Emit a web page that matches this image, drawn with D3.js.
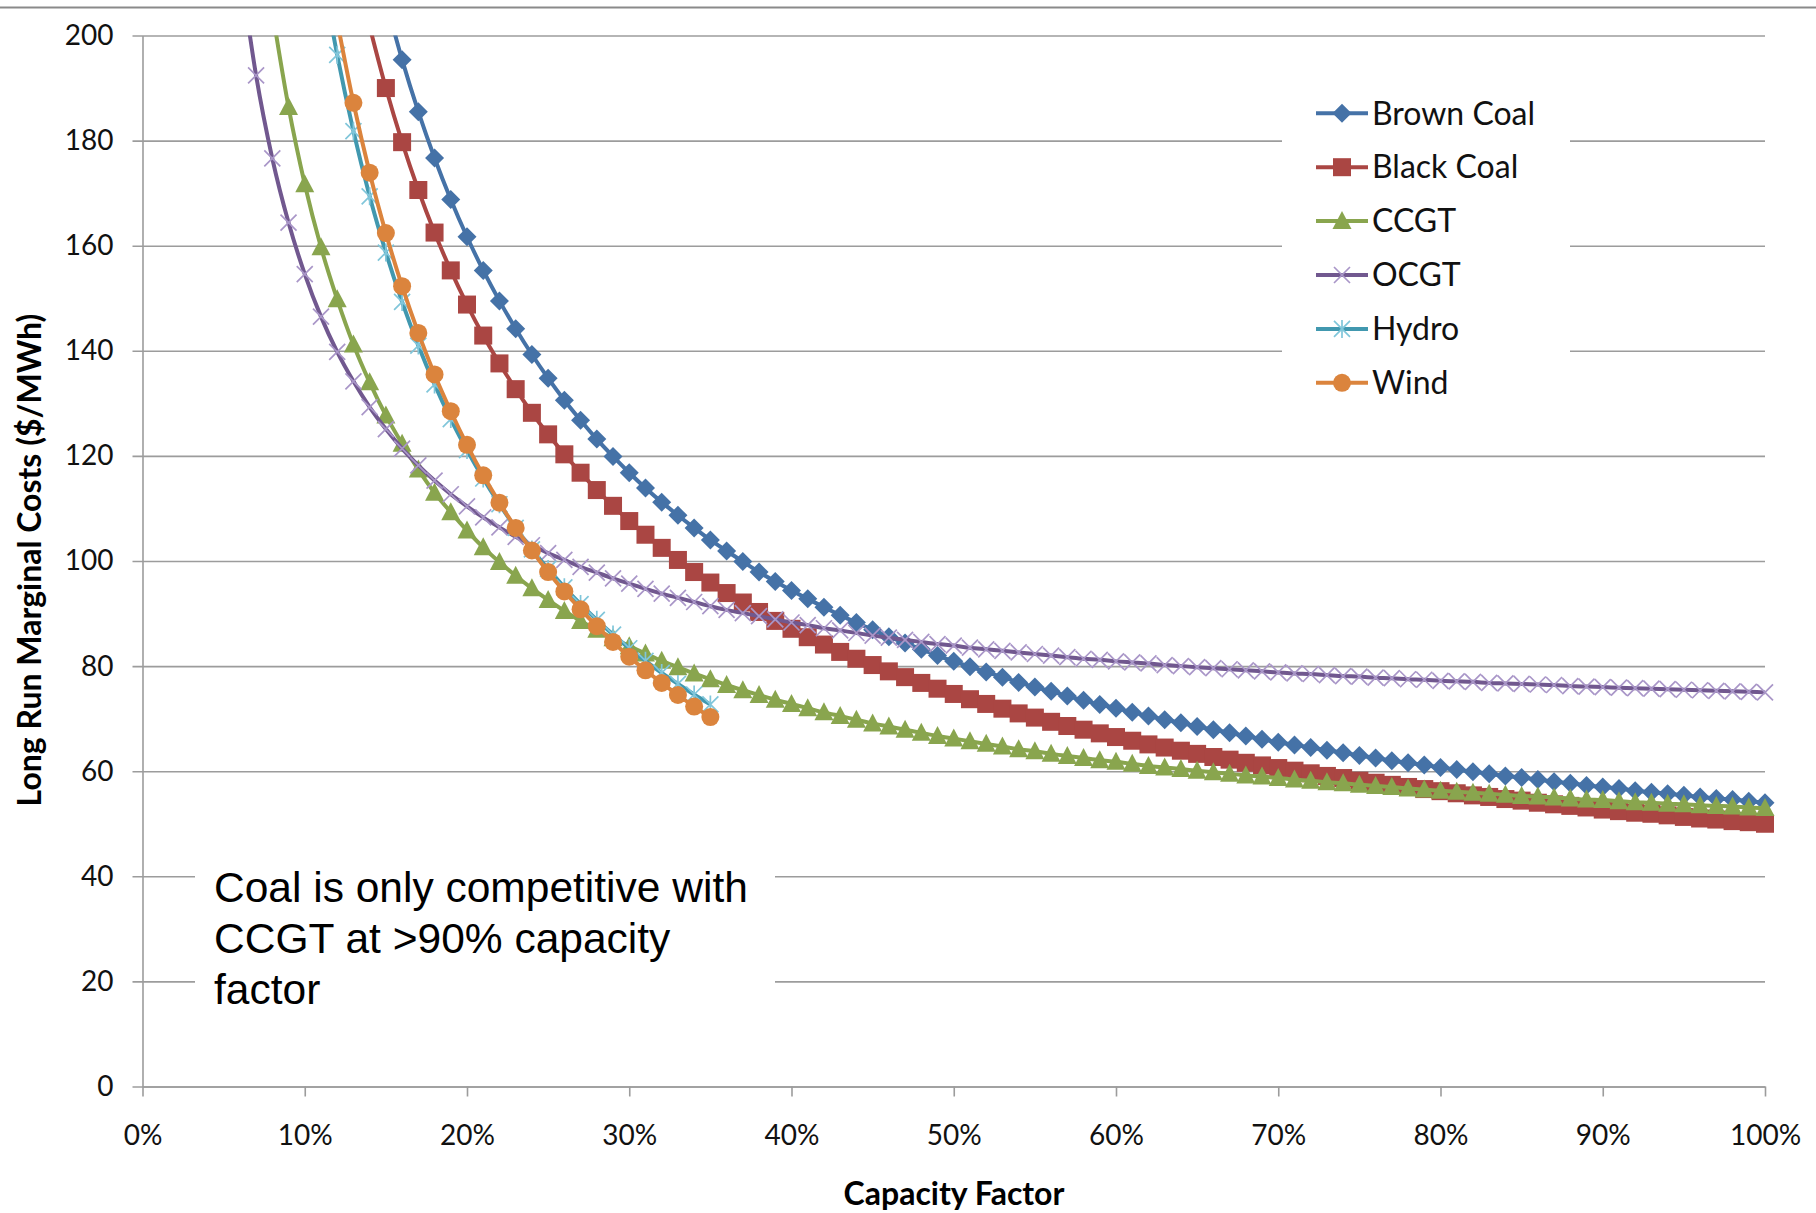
<!DOCTYPE html>
<html>
<head>
<meta charset="utf-8">
<script src="https://cdn.jsdelivr.net/npm/d3@7"></script>
<style>
  body { margin: 0; background: #fff; }
  svg  { display: block; }
</style>
</head>
<body>
<svg id="chart" width="1816" height="1213"></svg>
<script>
// ── Data ──────────────────────────────────────────────────────────────────────
// Long run marginal cost ($/MWh) at each whole-percent capacity factor,
// starting at the "from" capacity factor (%) and stepping by 1%.

const xTicks = [0, 10, 20, 30, 40, 50, 60, 70, 80, 90, 100];   // %
const yTicks = [0, 20, 40, 60, 80, 100, 120, 140, 160, 180, 200];

const brownCoalFrom = 15;
const brownCoal = [
  206.6, 195.4, 185.5, 176.7, 168.8, 161.7, 155.3, 149.5, 144.2, 139.3,
  134.8, 130.6, 126.8, 123.2, 119.9, 116.8, 113.9, 111.2, 108.7, 106.3,
  104.0, 101.9, 99.9, 97.9, 96.1, 94.4, 92.8, 91.2, 89.7, 88.3,
  86.9, 85.6, 84.4, 83.2, 82.0, 80.9, 79.9, 78.9, 77.9, 76.9,
  76.0, 75.2, 74.3, 73.5, 72.7, 72.0, 71.2, 70.5, 69.8, 69.2,
  68.5, 67.9, 67.3, 66.7, 66.1, 65.5, 65.0, 64.5, 64.0, 63.5,
  63.0, 62.5, 62.0, 61.6, 61.2, 60.7, 60.3, 59.9, 59.5, 59.1,
  58.8, 58.4, 58.0, 57.7, 57.3, 57.0, 56.7, 56.3, 56.0, 55.7,
  55.4, 55.1, 54.8, 54.6, 54.3, 54.0
];

const blackCoalFrom = 14;
const blackCoal = [
  201.7, 190.0, 179.7, 170.6, 162.5, 155.3, 148.8, 142.9, 137.6, 132.7,
  128.2, 124.1, 120.3, 116.8, 113.5, 110.5, 107.6, 105.0, 102.5, 100.2,
  97.9, 95.9, 93.9, 92.1, 90.3, 88.6, 87.1, 85.5, 84.1, 82.7,
  81.4, 80.2, 79.0, 77.9, 76.8, 75.7, 74.7, 73.7, 72.8, 71.9,
  71.0, 70.2, 69.4, 68.6, 67.9, 67.2, 66.5, 65.8, 65.1, 64.5,
  63.9, 63.3, 62.7, 62.2, 61.6, 61.1, 60.6, 60.1, 59.6, 59.1,
  58.7, 58.2, 57.8, 57.4, 57.0, 56.6, 56.2, 55.8, 55.4, 55.1,
  54.7, 54.4, 54.0, 53.7, 53.4, 53.1, 52.7, 52.4, 52.1, 51.9,
  51.6, 51.3, 51.0, 50.8, 50.5, 50.3, 50.0
];

const ccgtFrom = 8;
const ccgt = [
  204.7, 186.4, 171.7, 159.7, 149.8, 141.2, 134.0, 127.7, 122.3, 117.4,
  113.0, 109.3, 105.8, 102.6, 99.8, 97.2, 94.8, 92.6, 90.5, 88.6,
  86.9, 85.3, 83.8, 82.4, 81.0, 79.8, 78.6, 77.5, 76.4, 75.4,
  74.5, 73.6, 72.8, 72.0, 71.2, 70.5, 69.8, 69.1, 68.5, 67.9,
  67.3, 66.7, 66.2, 65.7, 65.2, 64.7, 64.2, 63.8, 63.3, 62.9,
  62.5, 62.1, 61.8, 61.4, 61.0, 60.7, 60.4, 60.1, 59.8, 59.5,
  59.2, 59.0, 58.7, 58.4, 58.2, 57.9, 57.7, 57.4, 57.2, 57.0,
  56.7, 56.5, 56.3, 56.1, 55.9, 55.7, 55.5, 55.3, 55.2, 55.0,
  54.8, 54.6, 54.5, 54.3, 54.1, 54.0, 53.8, 53.7, 53.5, 53.4,
  53.3, 53.1, 53.0
];

const ocgtFrom = 6;
const ocgt = [
  213.5, 192.4, 176.6, 164.4, 154.6, 146.5, 139.8, 134.2, 129.3, 125.1,
  121.4, 118.2, 115.3, 112.7, 110.4, 108.3, 106.4, 104.6, 103.0, 101.5,
  100.2, 98.9, 97.8, 96.7, 95.7, 94.7, 93.8, 93.0, 92.2, 91.4,
  90.7, 90.1, 89.5, 88.9, 88.3, 87.8, 87.2, 86.8, 86.3, 85.8,
  85.4, 85.0, 84.6, 84.2, 83.9, 83.5, 83.2, 82.9, 82.6, 82.3,
  82.0, 81.7, 81.4, 81.2, 80.9, 80.7, 80.5, 80.2, 80.0, 79.8,
  79.6, 79.4, 79.2, 79.0, 78.8, 78.6, 78.5, 78.3, 78.1, 78.0,
  77.8, 77.7, 77.5, 77.4, 77.2, 77.1, 77.0, 76.8, 76.7, 76.6,
  76.5, 76.4, 76.2, 76.1, 76.0, 75.9, 75.8, 75.7, 75.6, 75.5,
  75.4, 75.3, 75.2, 75.1, 75.0
];

const hydroFrom = 11;
const hydro = [
  213.4, 196.3, 181.8, 169.4, 158.7, 149.3, 141.0, 133.6, 127.0, 121.1,
  115.7, 110.8, 106.3, 102.2, 98.5, 95.0, 91.8, 88.8, 86.0, 83.4,
  81.0, 78.7, 76.6, 74.6, 72.7
];

const windFrom = 12;
const wind = [
  202.7, 187.2, 173.9, 162.4, 152.3, 143.4, 135.5, 128.5, 122.1, 116.3,
  111.1, 106.3, 102.0, 97.9, 94.2, 90.8, 87.6, 84.6, 81.8, 79.2,
  76.8, 74.5, 72.3, 70.3
];

const seriesNames = ['Brown Coal', 'Black Coal', 'CCGT', 'OCGT', 'Hydro', 'Wind'];
const noteLines   = ['Coal is only competitive with', 'CCGT at >90% capacity', 'factor'];

// ── Styling ───────────────────────────────────────────────────────────────────

const series = [
  { name: seriesNames[0], from: brownCoalFrom, values: brownCoal, color: '#4572A7', marker: 'diamond' },
  { name: seriesNames[1], from: blackCoalFrom, values: blackCoal, color: '#AA4643', marker: 'square'  },
  { name: seriesNames[2], from: ccgtFrom,      values: ccgt,      color: '#89A54E', marker: 'triangle'},
  { name: seriesNames[3], from: ocgtFrom,      values: ocgt,      color: '#71588F', marker: 'x',    mark: '#A996C8' },
  { name: seriesNames[4], from: hydroFrom,     values: hydro,     color: '#4198AF', marker: 'star', mark: '#80C6DA' },
  { name: seriesNames[5], from: windFrom,      values: wind,      color: '#DB843D', marker: 'circle'}
];

const FONT  = 'Lato, "Open Sans", sans-serif';
const GRID  = '#9c9c9c';

const svg = d3.select('#chart');

const x = d3.scaleLinear().domain([0, 100]).range([142.5, 1765]);
const y = d3.scaleLinear().domain([0, 200]).range([1086.5, 35.5]);

// top rule across the page
svg.append('line')
  .attr('x1', 0).attr('x2', 1816).attr('y1', 7.5).attr('y2', 7.5)
  .attr('stroke', '#8a8a8a').attr('stroke-width', 2);

// ── Axes + gridlines ──────────────────────────────────────────────────────────

const plotW = x(100) - x(0);

const yAxis = svg.append('g')
  .attr('transform', `translate(${x(0)},0)`)
  .call(d3.axisLeft(y).tickValues(yTicks).tickSizeInner(-plotW).tickSizeOuter(0).tickPadding(29));
yAxis.selectAll('.tick line').attr('x1', -10).attr('stroke', GRID).attr('stroke-width', 1.6);
yAxis.select('.domain').attr('stroke', GRID).attr('stroke-width', 1.6);
yAxis.selectAll('text')
  .attr('font-family', FONT).attr('font-size', 28).attr('fill', '#111');

const xAxis = svg.append('g')
  .attr('transform', `translate(0,${y(0)})`)
  .call(d3.axisBottom(x).tickValues(xTicks).tickSizeInner(10).tickSizeOuter(0)
    .tickPadding(29).tickFormat(d => d + '%'));
xAxis.selectAll('.tick line').attr('stroke', GRID).attr('stroke-width', 1.6);
xAxis.select('.domain').attr('stroke', GRID).attr('stroke-width', 1.6);
xAxis.selectAll('text')
  .attr('font-family', FONT).attr('font-size', 28).attr('fill', '#111');

// axis titles
svg.append('text')
  .attr('x', 954).attr('y', 1205)
  .attr('text-anchor', 'middle')
  .attr('font-family', FONT).attr('font-weight', 700).attr('font-size', 32)
  .text('Capacity Factor');

svg.append('text')
  .attr('transform', 'translate(41,560) rotate(-90)')
  .attr('text-anchor', 'middle')
  .attr('font-family', FONT).attr('font-weight', 700).attr('font-size', 32)
  .text('Long Run Marginal Costs ($/MWh)');

// white boxes behind the legend and the note (they hide gridlines)
svg.append('rect').attr('x', 1282).attr('y', 62).attr('width', 288).attr('height', 350).attr('fill', '#fff');
svg.append('rect').attr('x', 195).attr('y', 850).attr('width', 580).attr('height', 165).attr('fill', '#fff');

// ── Markers ───────────────────────────────────────────────────────────────────

function drawMarker(g, s) {
  const c = s.color;
  switch (s.marker) {
    case 'diamond':
      g.append('path').attr('d', 'M0,-9.5L9.5,0L0,9.5L-9.5,0Z').attr('fill', c);
      break;
    case 'square':
      g.append('rect').attr('x', -9).attr('y', -9).attr('width', 18).attr('height', 18).attr('fill', c);
      break;
    case 'triangle':
      g.append('path').attr('d', 'M0,-10L9.5,8L-9.5,8Z').attr('fill', c);
      break;
    case 'circle':
      g.append('circle').attr('r', 9).attr('fill', c);
      break;
    case 'x':
      g.append('path').attr('d', 'M-8,-8L8,8M-8,8L8,-8')
        .attr('stroke', s.mark).attr('stroke-width', 1.7).attr('fill', 'none');
      break;
    case 'star':
      g.append('path').attr('d', 'M-8,-8L8,8M-8,8L8,-8M0,-9L0,9')
        .attr('stroke', s.mark).attr('stroke-width', 1.7).attr('fill', 'none');
      break;
  }
}

// ── Series ────────────────────────────────────────────────────────────────────

svg.append('clipPath').attr('id', 'plot-clip')
  .append('rect').attr('x', 0).attr('y', y(200)).attr('width', 1816).attr('height', 1213);

const line = d3.line()
  .x(d => x(d.cf))
  .y(d => y(d.v))
  .curve(d3.curveMonotoneX);

series.forEach(s => {
  const pts = s.values.map((v, i) => ({ cf: s.from + i, v }));
  const g = svg.append('g');

  g.append('path')
    .datum(pts)
    .attr('clip-path', 'url(#plot-clip)')
    .attr('d', line)
    .attr('fill', 'none')
    .attr('stroke', s.color)
    .attr('stroke-width', 4)
    .attr('stroke-linejoin', 'round');

  g.selectAll('g.mk')
    .data(pts.filter(d => d.v <= 200))
    .enter().append('g')
      .attr('class', 'mk')
      .attr('transform', d => `translate(${x(d.cf)},${y(d.v)})`)
      .each(function () { drawMarker(d3.select(this), s); });
});

// ── Legend ────────────────────────────────────────────────────────────────────

const legend = svg.append('g');
series.forEach((s, i) => {
  const ly = 113.3 + i * 53.9;
  const row = legend.append('g').attr('transform', `translate(0,${ly})`);
  row.append('line')
    .attr('x1', 1316).attr('x2', 1368)
    .attr('stroke', s.color).attr('stroke-width', 4);
  drawMarker(row.append('g').attr('transform', 'translate(1342,0)'), s);
  row.append('text')
    .attr('x', 1372).attr('dy', '0.35em')
    .attr('font-family', FONT).attr('font-size', 32).attr('fill', '#111')
    .text(s.name);
});

// ── Note ──────────────────────────────────────────────────────────────────────

svg.append('text')
  .attr('font-family', '"Liberation Sans", Arial, sans-serif')
  .attr('font-size', 42.5).attr('fill', '#000')
  .selectAll('tspan')
  .data(noteLines)
  .enter().append('tspan')
    .attr('x', 214)
    .attr('y', (d, i) => 902 + i * 51)
    .text(d => d);
</script>
</body>
</html>
